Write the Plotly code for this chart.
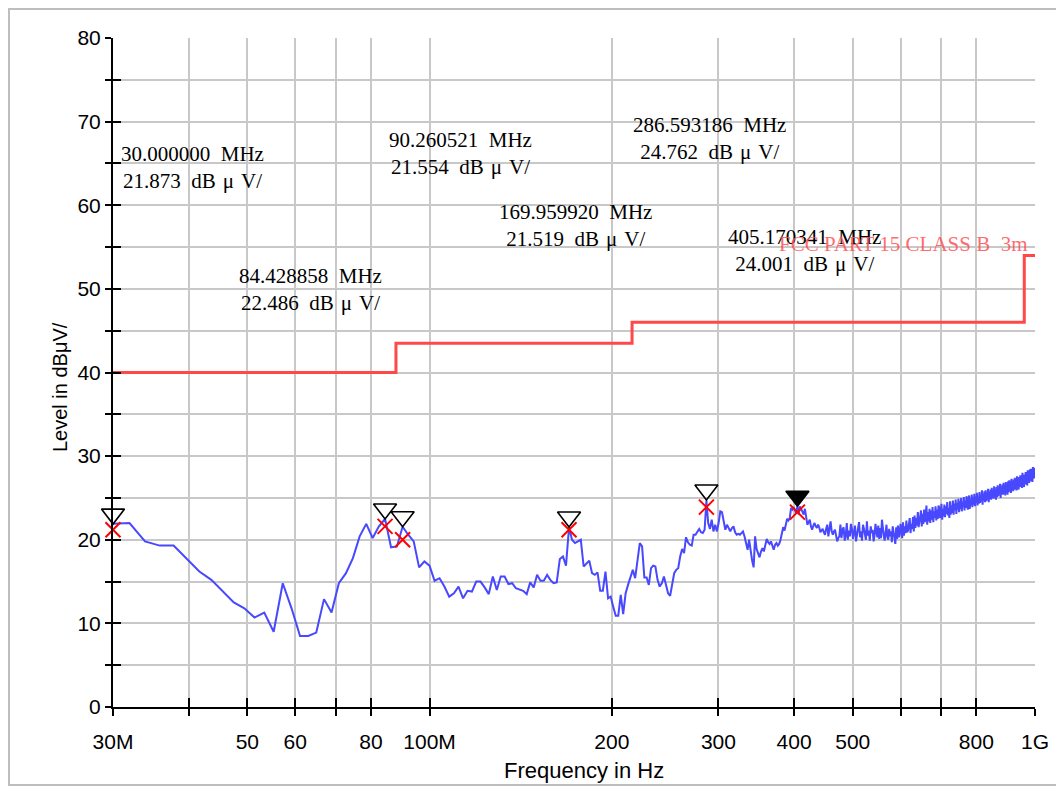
import numpy as np
import plotly.graph_objects as go

# ---------------- data ----------------
sweep_start_mhz = 30.0
sweep_stop_mhz = 1000.0

level_dbuv = [
    21.9, 22.0, 19.8, 19.3, 19.3, 17.7, 16.2, 15.2, 13.8, 12.5,
    11.8, 10.7, 11.3, 9.0, 14.8, 11.8, 8.5, 8.5, 8.9, 12.9,
    11.3, 14.8, 16.0, 17.8, 20.4, 21.9, 20.2, 21.6, 22.5, 19.1,
    19.2, 21.55, 20.6, 19.8, 16.7, 17.4, 16.9, 15.1, 15.4, 14.4,
    13.2, 13.6, 14.4, 13.0, 13.9, 13.8, 15.0, 15.0, 14.3, 13.5,
    15.6, 14.0, 15.6, 15.6, 14.7, 14.8, 14.2, 14.0, 13.9, 13.5,
    14.9, 14.3, 15.8, 15.1, 15.1, 15.8, 15.2, 14.8, 14.9, 17.7,
    18.0, 16.9, 21.5, 20.0, 19.6, 19.8, 20.0, 16.8, 17.1, 17.5,
    16.0, 15.8, 16.1, 13.9, 13.9, 16.2, 13.0, 13.2, 12.0, 10.9,
    10.9, 13.4, 11.1, 13.6, 14.6, 15.5, 16.4, 15.4, 17.5, 19.6,
    19.2, 15.5, 15.5, 14.6, 16.6, 16.9, 16.8, 15.2, 14.4, 14.8,
    15.6, 14.5, 13.6, 13.3, 14.6, 16.0, 16.4, 16.6, 18.0, 18.9,
    18.4, 20.3, 19.7, 19.4, 19.3, 20.6, 20.6, 21.0, 21.3, 20.9,
    20.8, 21.2, 24.7, 22.0, 21.3, 22.4, 21.0, 21.8, 21.0, 22.0,
    23.4, 23.3, 22.4, 21.2, 21.8, 21.4, 21.0, 21.4, 21.6, 20.9,
    20.6, 20.7, 20.6, 20.8, 21.0, 20.4, 19.5, 18.8, 20.0, 18.4,
    17.5, 16.7, 20.4, 18.9, 18.3, 17.9, 18.6, 19.0, 18.6, 19.2,
    20.1, 19.7, 19.5, 19.8, 19.3, 18.8, 19.4, 19.6, 19.3, 19.5,
    20.0, 20.8, 21.5, 21.1, 21.8, 22.5, 22.3, 22.6, 23.8, 23.6,
    23.9, 23.5, 23.2, 24.0, 23.0, 24.0, 23.6, 23.4, 23.0, 23.7,
    22.6, 21.8, 22.1, 22.4, 21.6, 21.2, 21.7, 22.0, 21.6, 21.4,
    21.8, 21.5, 20.9, 21.2, 21.3, 20.9, 20.6, 21.3, 21.8, 20.4,
    21.5, 22.2, 21.0, 20.6, 21.0, 21.2, 20.5, 19.8, 20.2, 20.4,
    21.8, 20.2, 21.2, 21.5, 19.9, 20.5, 22.0, 20.0, 21.1, 20.4,
    21.9, 21.3, 20.1, 20.7, 21.7, 19.8, 20.6, 21.4, 22.1, 20.3,
    21.0, 19.9, 21.8, 21.3, 20.4, 20.0, 22.2, 20.5, 21.1, 19.9,
    21.6, 20.8, 21.2, 19.8, 20.5, 21.9, 21.0, 20.3, 21.7, 20.1,
    21.4, 20.2, 22.4, 21.1, 20.5, 19.9, 21.5, 21.8, 20.3, 20.0,
    21.3, 20.4, 21.0, 19.7, 21.6, 20.9, 19.9, 19.5, 21.5, 20.1,
    21.7, 20.3, 20.6, 21.9, 21.4, 20.2, 22.1, 20.5, 21.6, 20.8,
    22.3, 20.9, 21.1, 22.0, 22.6, 20.8, 21.9, 21.3, 22.7, 21.0,
    22.9, 21.4, 22.6, 21.7, 23.3, 21.5, 22.0, 22.8, 23.5, 21.6,
    23.1, 21.9, 23.6, 22.1, 22.9, 24.1, 21.8, 23.3, 22.2, 23.7,
    22.0, 23.5, 22.4, 23.9, 22.1, 23.4, 22.6, 24.0, 22.3, 23.6,
    22.5, 24.1, 23.8, 22.6, 22.9, 24.3, 22.4, 23.7, 22.8, 24.2,
    22.7, 24.0, 23.1, 24.5, 22.9, 23.8, 22.6, 24.6, 23.0, 24.1,
    23.2, 24.7, 23.0, 24.3, 23.5, 24.8, 23.1, 24.4, 23.6, 24.9,
    23.3, 24.6, 23.7, 25.0, 23.4, 24.5, 23.9, 25.1, 23.5, 24.7,
    23.8, 25.2, 24.9, 23.6, 24.0, 25.3, 23.7, 24.8, 24.1, 25.4,
    23.9, 25.1, 24.2, 25.5, 24.0, 25.2, 24.4, 25.6, 24.1, 25.0,
    24.3, 25.7, 24.4, 25.3, 24.6, 25.9, 24.2, 25.5, 24.7, 25.8,
    24.5, 25.9, 24.6, 25.6, 24.8, 26.1, 24.5, 25.7, 24.9, 26.0,
    24.8, 26.2, 25.0, 25.9, 24.9, 26.4, 25.1, 26.0, 24.8, 26.3,
    25.1, 26.5, 25.2, 26.2, 25.4, 26.7, 25.0, 26.3, 25.5, 26.6,
    25.4, 26.8, 25.5, 26.4, 25.3, 26.9, 25.7, 26.6, 25.4, 27.0,
    25.7, 27.1, 25.8, 26.8, 25.6, 27.3, 26.0, 26.9, 25.8, 27.2,
    26.0, 27.4, 26.1, 27.0, 25.9, 27.6, 26.3, 27.1, 26.0, 27.5,
    26.3, 27.7, 26.4, 27.3, 26.2, 28.0, 26.6, 27.4, 26.3, 27.8,
    26.6, 28.1, 26.7, 27.6, 26.5, 28.3, 26.9, 27.7, 26.8, 28.4,
    27.0, 28.5, 27.1, 28.0, 26.9, 28.7, 27.3, 28.2, 27.4, 28.6,
]

# FCC Part 15 Class B (3 m) limit
limit_freq_mhz = [30, 88, 216, 960, 1000]
limit_level = [40, 43.5, 46, 54, 54]
limit_name = "FCC PART 15 CLASS B\u00a0 3m"

# marker table
peak_freq_mhz = [30.000000, 84.428858, 90.260521, 169.959920, 286.593186, 405.170341]
peak_level = [21.873, 22.486, 21.554, 21.519, 24.762, 24.001]
qp_level = [21.2, 21.6, 20.0, 21.2, 23.9, 23.3]
peak_filled = [False, False, False, False, False, True]

# axis ticks
xtick_mhz = [30, 40, 50, 60, 70, 80, 100, 200, 300, 400, 500, 600, 700, 800, 1000]
xtick_text = ["30M", "", "50", "60", "", "80", "100M", "200", "300", "400", "500", "", "", "800", "1G"]
ytick_vals = list(range(0, 81, 5))
ytick_text = [str(v) if v % 10 == 0 else "" for v in ytick_vals]

# label block positions (paper fractions) for the marker readouts
label_pos = [(0.0857, 0.8057), (0.2137, 0.6241), (0.3774, 0.8281),
             (0.5011, 0.7197), (0.6470, 0.8498), (0.7505, 0.6824)]

# ---------------- figure ----------------
W, H = 1056, 779          # page adds an 8 px body margin
ML, MR, MT, MB = 105, 29, 30, 80
pw = W - ML - MR
ph = H - MT - MB
px_per_db = ph / 80.0
tri_size = 20
tri_offset_db = (tri_size / 2) / px_per_db  # tip of triangle sits on the value


def paper_x(fx):
    return (fx - ML) / pw


def paper_y(fy):
    return (H - MB - fy) / ph


freq_hz = np.linspace(sweep_start_mhz, sweep_stop_mhz, len(level_dbuv)) * 1e6
lim_hz = [f * 1e6 for f in limit_freq_mhz]
peak_hz = [f * 1e6 for f in peak_freq_mhz]

fig = go.Figure()

fig.add_trace(go.Scatter(
    x=lim_hz, y=limit_level, mode="lines", line_shape="hv",
    line=dict(color="rgb(255,72,72)", width=3), hoverinfo="skip", showlegend=False))

fig.add_trace(go.Scatter(
    x=freq_hz, y=level_dbuv, mode="lines",
    line=dict(color="rgb(72,72,255)", width=2), showlegend=False))

fig.add_trace(go.Scatter(
    x=peak_hz, y=qp_level, mode="markers", cliponaxis=False,
    marker=dict(symbol="x-thin-open", size=15, color="rgb(255,0,0)",
                line=dict(color="rgb(255,0,0)", width=2)),
    showlegend=False))

fig.add_trace(go.Scatter(
    x=peak_hz, y=[v + tri_offset_db for v in peak_level], mode="markers", cliponaxis=False,
    marker=dict(symbol=["triangle-down" if f else "triangle-down-open" for f in peak_filled],
                size=tri_size, color="black", line=dict(color="black", width=1.6)),
    showlegend=False))

# invisible trace carrying the overlay axes (inner halves of the crossing ticks)
fig.add_trace(go.Scatter(
    x=lim_hz, y=limit_level, xaxis="x2", yaxis="y2", mode="lines", opacity=0,
    hoverinfo="skip", showlegend=False))

eps = 1e-7  # keeps the 30 MHz markers inside the range test
xr = [np.log10(sweep_start_mhz * 1e6) - eps, np.log10(sweep_stop_mhz * 1e6) + eps]
grid_col = "rgb(200,200,200)"
tick_font = dict(family="Liberation Sans, Arial, sans-serif", size=21, color="black")

fig.update_layout(
    width=W, height=H,
    margin=dict(l=ML, r=MR, t=MT, b=MB, autoexpand=False),
    paper_bgcolor="white", plot_bgcolor="white",
    xaxis=dict(type="log", range=xr, tickmode="array",
               tickvals=[f * 1e6 for f in xtick_mhz], ticktext=xtick_text,
               showgrid=True, gridcolor=grid_col, gridwidth=2,
               showline=True, linecolor="black", linewidth=2,
               ticks="outside", ticklen=7, tickwidth=1.5, tickcolor="black",
               ticklabelstandoff=8, tickfont=tick_font, zeroline=False),
    yaxis=dict(range=[0, 80], tickmode="array", tickvals=ytick_vals, ticktext=ytick_text,
               showgrid=True, gridcolor=grid_col, gridwidth=2,
               showline=True, linecolor="black", linewidth=2,
               ticks="outside", ticklen=6, tickwidth=1.5, tickcolor="black",
               ticklabelstandoff=0, tickfont=tick_font, zeroline=False),
    xaxis2=dict(type="log", range=xr, overlaying="x", anchor="y2", side="bottom",
                tickmode="array", tickvals=[f * 1e6 for f in xtick_mhz],
                showticklabels=False, showgrid=False, showline=False, zeroline=False,
                ticks="inside", ticklen=9, tickwidth=1.5, tickcolor="black"),
    yaxis2=dict(range=[0, 80], overlaying="y", anchor="x2", side="left",
                tickmode="array", tickvals=ytick_vals,
                showticklabels=False, showgrid=False, showline=False, zeroline=False,
                ticks="inside", ticklen=8, tickwidth=1.5, tickcolor="black"),
    showlegend=False,
)

label_font = dict(family="Liberation Serif, Times New Roman, serif", size=21, color="black")
for (xp, yp), f, lv in zip(label_pos, peak_freq_mhz, peak_level):
    fig.add_annotation(xref="paper", yref="paper", x=xp, y=yp, showarrow=False,
                       text=f"{f:.6f}\u2002MHz<br>{lv:.3f}\u2002dB\u2004μ\u2004V/", align="center",
                       font=label_font, xanchor="center", yanchor="middle")

fig.add_annotation(xref="paper", yref="paper", x=0.9946, y=0.6921, showarrow=False,
                   text=limit_name, xanchor="right", yanchor="middle",
                   font=dict(family="Liberation Serif, Times New Roman, serif", size=21,
                             color="rgba(255,80,80,0.85)"))

# axis titles
fig.add_annotation(xref="paper", yref="paper", x=paper_x(576), y=paper_y(762),
                   text="Frequency in Hz", showarrow=False, xanchor="center", yanchor="middle",
                   font=dict(family="Liberation Sans, Arial, sans-serif", size=22, color="black"))
fig.add_annotation(xref="paper", yref="paper", x=paper_x(52), y=paper_y(379),
                   text="Level in dBμV/", showarrow=False, textangle=-90,
                   xanchor="center", yanchor="middle",
                   font=dict(family="Liberation Sans, Arial, sans-serif", size=20, color="black"))

# outer frame
fig.add_shape(type="rect", xref="paper", yref="paper",
              x0=paper_x(1), x1=paper_x(1049),
              y0=paper_y(777), y1=paper_y(1),
              line=dict(color="rgb(190,190,190)", width=2), fillcolor="rgba(0,0,0,0)")

fig.write_html("out.html")
